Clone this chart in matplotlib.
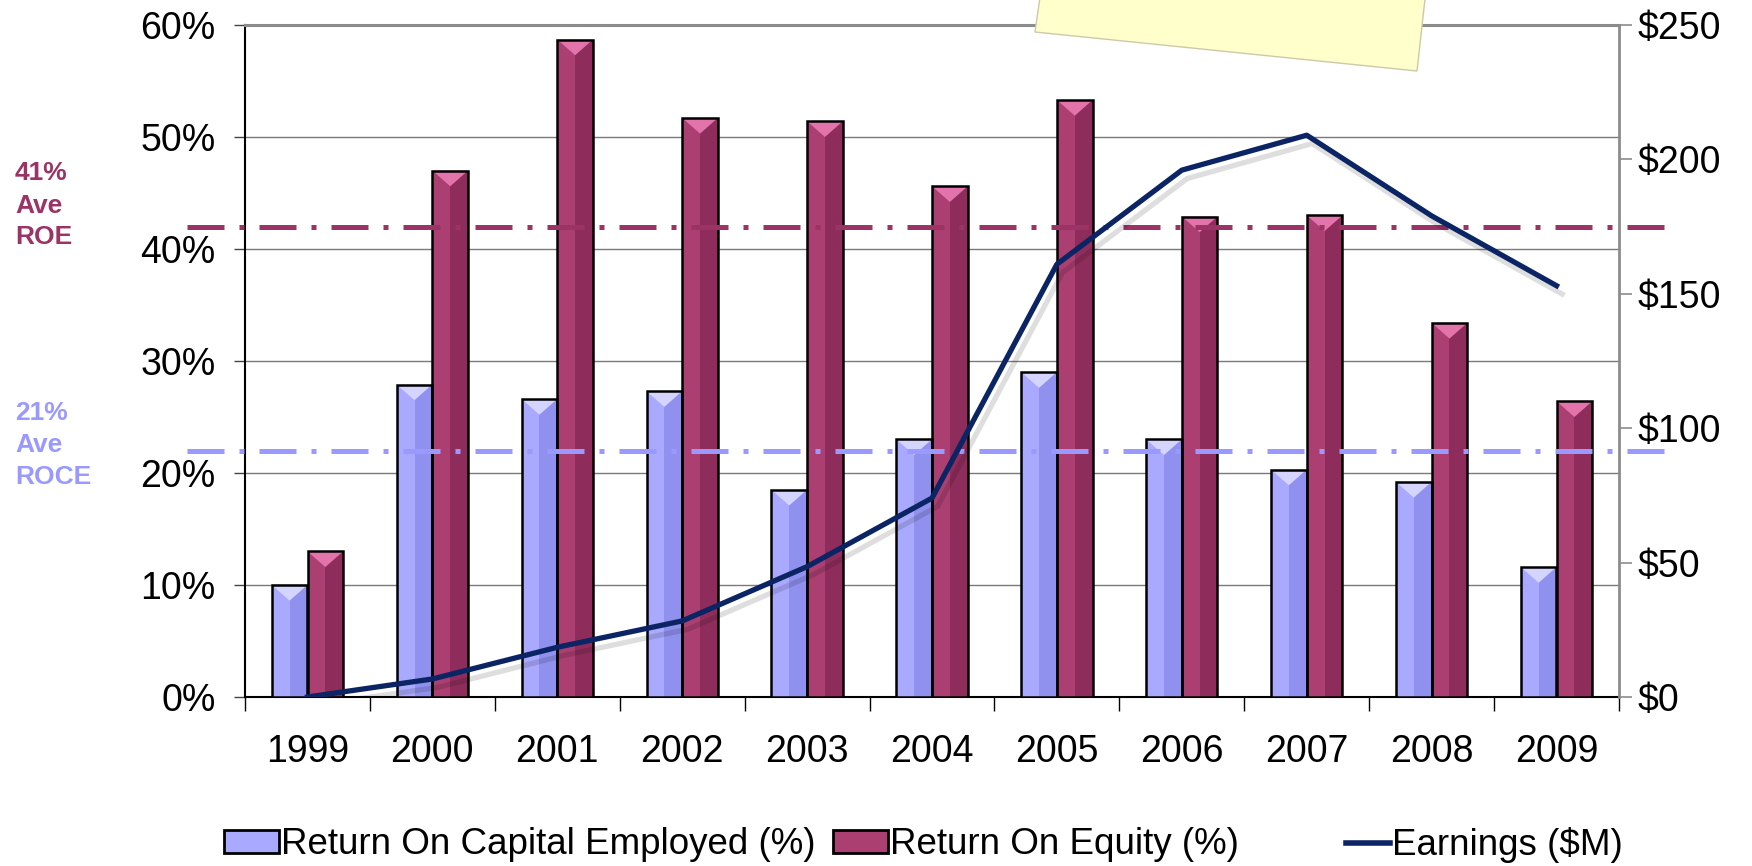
import matplotlib
matplotlib.use('Agg')
import matplotlib.pyplot as plt
import matplotlib.patheffects as pe
from matplotlib.patches import Polygon, Patch
from matplotlib.lines import Line2D
import numpy as np

# ---------------- data ----------------
years = ['1999', '2000', '2001', '2002', '2003', '2004', '2005', '2006', '2007', '2008', '2009']
roce = [10.0, 27.9, 26.6, 27.3, 18.5, 23.0, 29.0, 23.0, 20.3, 19.2, 11.6]
roe = [13.0, 47.0, 58.7, 51.7, 51.4, 45.6, 53.3, 42.9, 43.0, 33.4, 26.4]
earnings = [0, 6.7, 18.5, 28.3, 48.5, 74, 161, 196, 209, 179, 153]
roe_avg_line = 42
roce_avg_line = 22
left_ticks = [0, 10, 20, 30, 40, 50, 60]
right_ticks = [0, 50, 100, 150, 200, 250]
labels = ['Return On Capital Employed (%)', 'Return On Equity (%)', 'Earnings ($M)']

plt.rcParams['font.family'] = ['Liberation Sans', 'DejaVu Sans']

W, H = 1752, 866
FS = 27
fig = plt.figure(figsize=(W / 100, H / 100), dpi=100)
ax = fig.add_axes([245 / W, 1 - 697 / H, (1619 - 245) / W, (697 - 25) / H])

x = np.arange(len(years))
w = 0.285
off = 0.143

c_roce, c_roce_dk, c_roce_tp = '#A9A9FF', '#9090EE', '#D4D4FF'
c_roe, c_roe_dk, c_roe_tp = '#AB3F71', '#8E2D5B', '#E373AB'


def draw_bars(xc, vals, c, cdk, ctp):
    vals = np.asarray(vals, dtype=float)
    ax.bar(xc, vals, w, color=c, linewidth=0, zorder=3)
    ax.bar(xc, vals, w / 2, align='edge', color=cdk, linewidth=0, zorder=3.1)
    for xi, v in zip(xc, vals):
        ax.fill([xi - w / 2, xi + w / 2, xi], [v, v, v - 1.4], color=ctp, lw=0, zorder=3.2)
    ax.bar(xc, vals, w, facecolor='none', edgecolor='black', linewidth=1.8, zorder=3.3)


draw_bars(x - off, roce, c_roce, c_roce_dk, c_roce_tp)
draw_bars(x + off, roe, c_roe, c_roe_dk, c_roe_tp)

# average lines (dash-dot), extending beyond the axes
ytr = ax.get_yaxis_transform()
ax.plot([-0.042, 1.041], [roe_avg_line] * 2, transform=ytr, clip_on=False,
        color='#9B3366', lw=3.6, ls=(0, (7.4, 3, 1, 3)), zorder=5)
ax.plot([-0.042, 1.041], [roce_avg_line] * 2, transform=ytr, clip_on=False,
        color='#9999FF', lw=3.6, ls=(0, (7.4, 3, 1, 3)), zorder=5)

ax.set_xlim(-0.5, len(years) - 0.5)
ax.set_ylim(0, 60)
ax.set_yticks(left_ticks)
ax.set_yticklabels([f'{v}%' for v in left_ticks])
ax.yaxis.grid(True, color='#7a7a7a', lw=1)
ax.set_axisbelow(True)

ax.set_xticks(x)
ax.set_xticklabels(years)
ax.set_xticks(np.arange(-0.5, len(years), 1), minor=True)
ax.tick_params(axis='x', which='major', length=0, pad=27, labelsize=FS)
ax.tick_params(axis='x', which='minor', length=10, width=1, color='black')
ax.tick_params(axis='y', length=8, width=1, pad=13, labelsize=FS, color='#444444')

ax.spines['top'].set_color('#8c8c8c')
ax.spines['top'].set_linewidth(2.2)
ax.spines['right'].set_visible(False)
ax.spines['left'].set_color('black')
ax.spines['left'].set_linewidth(1.5)
ax.spines['bottom'].set_color('black')
ax.spines['bottom'].set_linewidth(1.5)

# secondary axis with earnings
ax2 = ax.twinx()
ax2.set_ylim(0, 250)
ax2.set_yticks(right_ticks)
ax2.set_yticklabels([f'${v}' for v in right_ticks])
ax2.tick_params(axis='y', length=9, width=1.2, pad=4, labelsize=FS, color='#8c8c8c')
for s in ['top', 'left', 'bottom']:
    ax2.spines[s].set_visible(False)
ax2.spines['right'].set_color('#8c8c8c')
ax2.spines['right'].set_linewidth(2)
navy = '#0B2463'
ax2.plot(x, earnings, color=navy, lw=3.8, solid_joinstyle='round', zorder=6,
         path_effects=[pe.SimpleLineShadow(offset=(4, -6), shadow_color='black', alpha=0.13),
                       pe.Normal()])

# side labels
for txt, yy in [('41%', 173), ('Ave', 206), ('ROE', 237)]:
    fig.text(15 / W, 1 - yy / H, txt, ha='left', va='center', fontsize=19,
             fontweight='bold', color='#9B3366')
for txt, yy in [('21%', 413), ('Ave', 445), ('ROCE', 477)]:
    fig.text(15 / W, 1 - yy / H, txt, ha='left', va='center', fontsize=19,
             fontweight='bold', color='#9999FF')

# sticky note at top
note_px = [(1041, -10), (1035, 32), (1417, 71), (1426, -10)]
note = Polygon([(px / W, 1 - py / H) for px, py in note_px], closed=True,
               transform=fig.transFigure, facecolor='#FFFFCC', edgecolor='#CFC8A8',
               lw=1, zorder=10)
fig.patches.append(note)

# legend (three entries placed individually)
handles = [Patch(facecolor=c_roce, edgecolor='black', lw=2),
           Patch(facecolor=c_roe, edgecolor='black', lw=2),
           Line2D([], [], color=navy, lw=4)]
lefts = [224, 833, 1346]
hlens = [1.5, 1.5, 1.2]
for h, lab, lx, hl in zip(handles, labels, lefts, hlens):
    fig.legend([h], [lab], loc='center left', bbox_to_anchor=(lx / W, 1 - 845 / H),
               frameon=False, fontsize=26.5, handlelength=hl, handleheight=0.6,
               handletextpad=0.04, borderpad=0, borderaxespad=0)

fig.savefig('out.png', dpi=100)
